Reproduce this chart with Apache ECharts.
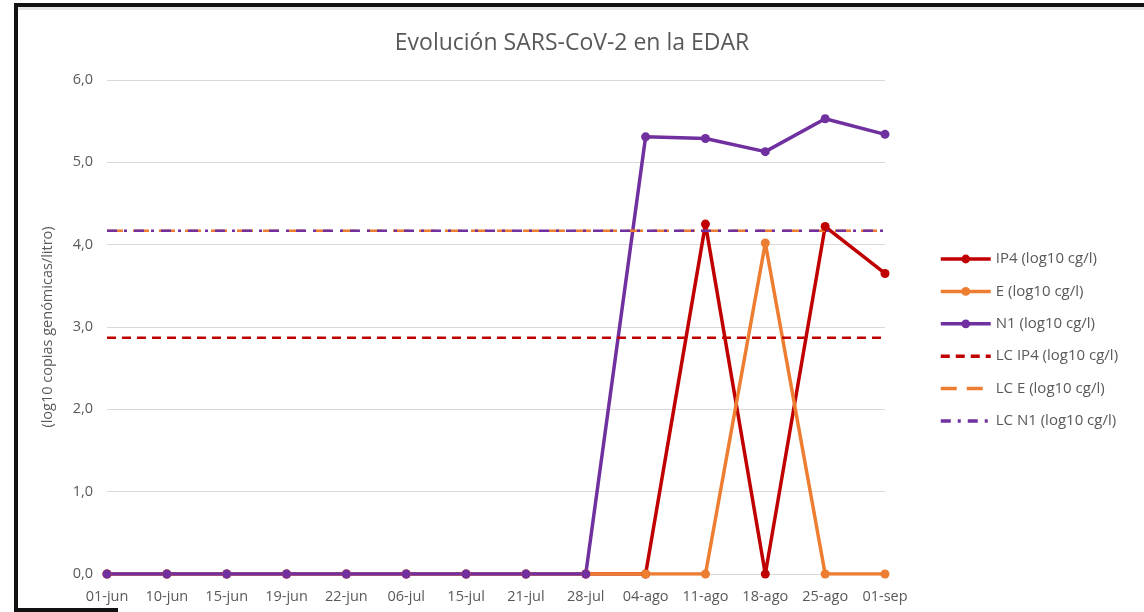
<!DOCTYPE html>
<html>
<head>
<meta charset="utf-8">
<script src="https://cdn.jsdelivr.net/npm/echarts@6/dist/echarts.min.js"></script>
<style>
  html, body { margin: 0; padding: 0; background: #fff; }
  #chart { width: 1144px; height: 612px; }
  .frame-top { position: absolute; left: 14px; top: 3px; right: 0; height: 4px; background: #111; }
  .frame-shade { position: absolute; left: 18px; top: 7px; right: 0; height: 3px; background: #e6e6e6; }
  .frame-left { position: absolute; left: 14px; top: 3px; width: 4px; height: 609px; background: #111; }
  .frame-bottom { position: absolute; left: 14px; top: 608px; width: 104px; height: 4px; background: #111; }
</style>
</head>
<body>
<div id="chart"></div>
<div class="frame-top"></div>
<div class="frame-shade"></div>
<div class="frame-left"></div>
<div class="frame-bottom"></div>
<script>
var fechas = ['01-jun', '10-jun', '15-jun', '19-jun', '22-jun', '06-jul', '15-jul', '21-jul', '28-jul', '04-ago', '11-ago', '18-ago', '25-ago', '01-sep'];
var ip4 = [0, 0, 0, 0, 0, 0, 0, 0, 0, 0, 4.25, 0, 4.22, 3.65];
var genE = [0, 0, 0, 0, 0, 0, 0, 0, 0, 0, 0, 4.02, 0, 0];
var n1 = [0, 0, 0, 0, 0, 0, 0, 0, 0, 5.31, 5.29, 5.13, 5.53, 5.34];
var lcIp4 = 2.87;
var lcE = 4.17;
var lcN1 = 4.17;
var yTicks = { min: 0, max: 6, interval: 1 };

var colRed = '#C00000';
var colOrange = '#ED7D31';
var colPurple = '#7030A0';
var textCol = '#595959';
var fontFam = '"Open Sans", Lato, sans-serif';

var constante = function(v) {
  return fechas.map(function() { return v; });
};

var serieDatos = function(name, data, color) {
  return {
    name: name,
    type: 'line',
    data: data,
    symbol: 'circle',
    symbolSize: 9,
    itemStyle: { color: color },
    lineStyle: { color: color, width: 3.5 },
    emphasis: { disabled: true },
    animation: false
  };
};

var serieLimite = function(name, value, color, dash) {
  return {
    name: name,
    type: 'line',
    data: constante(value),
    symbol: 'none',
    itemStyle: { color: color },
    lineStyle: { color: color, width: 2.5, type: dash },
    emphasis: { disabled: true },
    animation: false
  };
};

var sinMarca = { color: 'transparent', borderWidth: 0, opacity: 0 };

var chart = echarts.init(document.getElementById('chart'));
chart.setOption({
  backgroundColor: '#fff',
  textStyle: { fontFamily: fontFam },
  title: {
    text: 'Evolución SARS-CoV-2 en la EDAR',
    left: 'center',
    top: 27,
    textStyle: { color: textCol, fontSize: 23, fontWeight: 'normal', fontFamily: fontFam }
  },
  legend: {
    orient: 'vertical',
    left: 934,
    top: 245,
    itemWidth: 50,
    itemHeight: 11,
    itemGap: 14.4,
    itemStyle: { borderWidth: 0 },
    lineStyle: { width: 3.5 },
    textStyle: { color: textCol, fontSize: 15, lineHeight: 18, fontFamily: fontFam },
    data: [
      'IP4 (log10 cg/l)',
      'E (log10 cg/l)',
      'N1 (log10 cg/l)',
      { name: 'LC IP4 (log10 cg/l)', itemStyle: sinMarca },
      { name: 'LC E (log10 cg/l)', itemStyle: sinMarca },
      { name: 'LC N1 (log10 cg/l)', itemStyle: sinMarca }
    ]
  },
  grid: { left: 107, right: 259, top: 80, bottom: 38 },
  xAxis: {
    type: 'category',
    data: fechas,
    boundaryGap: false,
    axisLine: { lineStyle: { color: '#d9d9d9' } },
    axisTick: { show: false },
    axisLabel: { color: textCol, fontSize: 14.5, margin: 15, interval: 0 },
    splitLine: { show: false }
  },
  yAxis: {
    type: 'value',
    min: yTicks.min,
    max: yTicks.max,
    interval: yTicks.interval,
    name: '(log10 copias genómicas/litro)',
    nameLocation: 'middle',
    nameGap: 52,
    nameTextStyle: { color: textCol, fontSize: 14.5 },
    axisLine: { show: false },
    axisTick: { show: false },
    axisLabel: {
      color: textCol,
      fontSize: 14.5,
      margin: 14,
      formatter: function(v) { return v.toFixed(1).replace('.', ','); }
    },
    splitLine: { lineStyle: { color: '#d9d9d9' } }
  },
  series: [
    serieDatos('IP4 (log10 cg/l)', ip4, colRed),
    serieDatos('E (log10 cg/l)', genE, colOrange),
    serieDatos('N1 (log10 cg/l)', n1, colPurple),
    serieLimite('LC IP4 (log10 cg/l)', lcIp4, colRed, [9, 6]),
    serieLimite('LC E (log10 cg/l)', lcE, colOrange, [16, 10]),
    serieLimite('LC N1 (log10 cg/l)', lcN1, colPurple, [10, 7, 3, 7])
  ]
});
</script>
</body>
</html>
